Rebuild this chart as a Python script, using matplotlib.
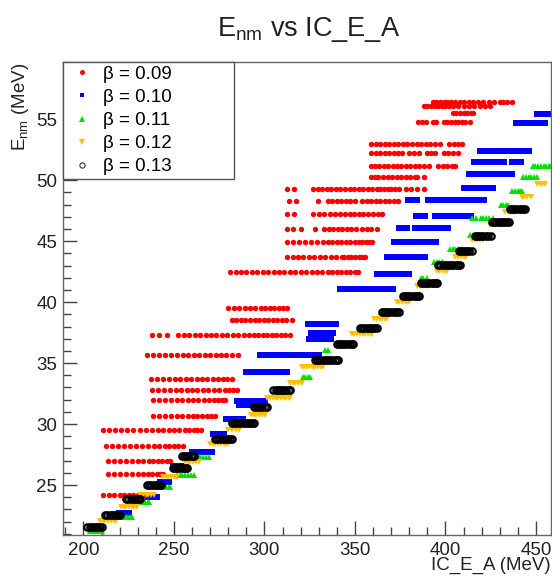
import numpy as np
import matplotlib
matplotlib.use("Agg")
import matplotlib.pyplot as plt
from matplotlib.ticker import MultipleLocator
from matplotlib.lines import Line2D

plt.rcParams['font.family'] = ['Liberation Sans', 'DejaVu Sans']
plt.rcParams['mathtext.fontset'] = 'custom'
plt.rcParams['mathtext.rm'] = 'Liberation Sans'
plt.rcParams['mathtext.it'] = 'Liberation Sans:italic'

# beta = 0.09 (red dots), rows of E_nm with their IC_E_A values
red_y = [56.4, 56.1, 55.5, 54.8, 53.0, 52.2, 51.2, 50.3, 49.3, 48.3, 47.2, 46.0, 44.9, 43.7,
         42.45, 39.5, 38.5, 37.3, 35.7, 33.7, 32.8, 32.0, 30.7, 29.5, 28.2, 27.0, 25.9, 24.2]
red_x = [
    [393, 395, 397, 399, 401, 403, 405, 408, 410, 413, 415, 418, 421, 424, 427, 430, 432, 434, 436.5],
    [388, 390, 392, 394, 396, 398, 400, 402, 404, 407, 410, 413, 416, 419, 422, 424.5],
    [404, 406, 408, 410, 412, 414, 415.2],
    [385, 387, 389, 393, 395, 399, 401, 403, 405, 407, 409, 411, 413.5],
    [359, 361.5, 364, 366.5, 369, 371.5, 374, 376.5, 379, 381.5, 384, 386.5, 389, 391.5, 394, 397,
     402, 404.5, 407, 409],
    [359, 361.5, 364, 366.5, 369, 371.5, 374, 376, 380, 382.5, 385.5, 390, 392, 394, 399, 401.5, 404, 407],
    [359, 361, 363.5, 366, 368.5, 371, 373, 375.5, 378, 380.5, 383, 385.5, 388, 391, 396, 398.5, 401,
     403.5, 405],
    [359, 361, 363, 365.5, 368, 370.5, 373, 375.5, 378, 380.5, 383, 384.5, 388],
    [312.5, 316.5, 327, 329.5, 332, 334.5, 337, 339.5, 342, 344.5, 347, 349.5, 352, 354.5, 357, 359.5,
     362, 364, 366, 368, 370, 372, 374.5, 378, 381, 384, 388],
    [313.5, 317.5, 329.7, 335, 337.5, 340, 342.5, 345, 347.5, 350, 354, 356.5, 359, 361.5, 364, 366.5,
     369, 371.5, 374],
    [312.5, 316.5, 327, 330, 333, 336, 339, 341.7, 344.5, 347, 349.5, 352, 354.6, 357.3, 360, 362.5, 364.8],
    [312.3, 316, 320.3, 327.9, 333, 335.5, 338, 340.5, 343, 345.5, 348, 350.5, 354, 356.5, 359, 362],
    [312.3, 315.7, 319, 322.4, 325.8, 329.2, 332.5, 335, 337.5, 340, 342.5, 345, 347.5, 350, 352, 354,
     356, 358, 359.2],
    [312.6, 315.5, 318.5, 321.5, 324.5, 327.5, 330.5, 333.5, 336.5, 339.5, 342.7, 344, 346, 348, 350,
     352, 354, 355.5],
    [281, 284, 287, 290, 293, 296, 299, 302, 305, 308, 311, 314, 317, 320, 323, 326, 329, 332, 335,
     337.5, 340, 342.5, 345, 347.5, 350, 351.7],
    [280, 283, 286, 289, 292, 295, 298, 300.5, 303, 305.5, 308, 310.5, 312.3],
    [281.9, 284.5, 287, 289.5, 292, 294.5, 297, 299.5, 302, 304.5, 307, 309.5, 312, 315],
    [237.7, 241.7, 246, 252.4, 255.5, 258.5, 261.5, 264.5, 267.5, 270.5, 273.5, 276.5, 279.5, 282.5,
     285.5, 288.5, 291.5, 294, 296.5, 299, 301.5, 304, 306.5, 309, 311.5, 314],
    [235.2, 238.5, 241.8, 245, 248.3, 251.5, 254.8, 258, 261, 264, 267, 270, 273, 276, 279, 282, 285.5],
    [237.1, 240.4, 243.7, 247, 250.3, 253.5, 256.5, 259.5, 262.5, 265.5, 268.5, 271.5, 274.5, 277,
     279.5, 281.9],
    [238, 241.3, 244.6, 248, 251, 254, 257, 260, 263, 266, 269, 272, 275, 278, 280.5, 282.5, 284.6],
    [238.4, 241.7, 245, 248.3, 251.5, 254.5, 257.5, 260.5, 263.5, 266.5, 269.5, 272, 274.5, 276.5, 278.2],
    [238.4, 241.7, 245, 248.3, 251.5, 254.5, 257.5, 260.5, 263, 265.5, 268, 270.5, 272.7],
    [211, 214.3, 217.6, 221, 224.3, 227.6, 231, 234.3, 237.6, 241, 244, 247, 250, 253, 256, 258.5,
     261, 263, 265.2],
    [212.4, 215.7, 219, 222.3, 225.6, 229, 232.3, 235.6, 239, 242, 245, 247.5, 250, 252.5, 255],
    [213.3, 216.6, 220, 223.3, 226.6, 230, 233, 236, 238.5, 241, 243.5, 246, 247.8],
    [213.3, 216.6, 220, 223.3, 226.6, 230, 233, 235.5, 238, 240.5, 242.5, 243.9],
    [211, 214, 217, 220, 222.5, 225, 227.5, 230, 232.9],
]

# beta = 0.10 (blue squares)
blue_y = [55.4, 54.7, 52.4, 51.5, 50.5, 49.4, 48.4, 47.1, 46.1, 44.9, 43.7, 42.3, 41.1, 38.2,
          37.45, 36.96, 35.7, 34.3, 31.9, 31.6, 30.4, 29.15, 27.7, 26.56, 25.27, 24.0, 22.7]
blue_x = [
    [450.5, 452, 453.5, 455, 456.5, 458],
    [439, 440.5, 442, 443.5, 445, 446.5, 448, 449.5, 451, 452.5, 454, 455],
    [419, 420.5, 422, 423.5, 425, 426.5, 428, 429.5, 431, 432.5, 434, 435.5, 437, 438.5, 440, 441.5,
     443, 444.5, 446],
    [416, 417.5, 419, 420.5, 422, 423.5, 425, 426.5, 428, 429.5, 431, 432.5, 437, 438.5, 440, 441.5],
    [413, 414.5, 416, 417.5, 419, 420.5, 422, 423.5, 425, 426.5, 428, 429.5, 432.5, 434, 435.5, 437],
    [410, 411.5, 413, 414.5, 416, 417.5, 419, 420.5, 422, 423.5, 425, 426],
    [379.5, 381, 382.5, 384, 390.5, 392, 393.5, 395, 396.5, 398, 399.5, 401, 402.5, 404, 405.5, 407,
     408.5, 410, 411.5, 413, 414.5, 416, 417.5, 419, 420.5, 421.3],
    [383.7, 385.2, 386.7, 388.5, 394.2, 395.7, 397.2, 398.7, 400.2, 401.7, 403.2, 404.7, 406.2, 407.7,
     409.2, 410.7, 412.2, 413.9],
    [374.5, 376, 377.5, 379, 383.2, 384.7, 386.2, 387.7, 389.2, 390.7, 392.2, 393.7, 395.2, 396.7,
     398.2, 399.7, 401.5],
    [371.6, 373.1, 374.6, 376.1, 377.1, 379.1, 380.6, 382.1, 383.6, 385.1, 386.6, 388.1, 389.6, 391.1,
     392.6, 394, 394.8],
    [367.5, 369, 370.5, 372, 373.5, 375, 376.5, 378, 379.5, 381, 382.5, 384, 385.5, 387, 388.7],
    [362.3, 363.8, 365.3, 366.8, 368.3, 369.8, 371.3, 372.8, 374.3, 375.8, 377.3, 378.8, 379.8],
    [341.7, 343.2, 344.7, 346.2, 347.7, 349.2, 350.7, 352.2, 353.7, 355.2, 356.7, 358.2, 359.7, 361.2,
     362.7, 364.2, 365.7, 367.2, 368.7, 370.2, 371.2],
    [324.2, 325.7, 327.2, 328.7, 330.2, 331.7, 333.2, 334.7, 336.2, 337.7, 339.5],
    [325.7, 327.2, 328.7, 330.2, 331.7, 333.2, 334.7, 336.2, 337.7],
    [324.6, 326.1, 327.6, 329.1, 330.6, 332.1, 333.6, 335.1, 336.7],
    [297.5, 299, 300.5, 302, 303.5, 305.3, 308.2, 309.7, 311.2, 312.7, 314.2, 315.7, 317.2, 318.7,
     320.2, 321.7, 323.2, 324.7, 326.2, 327.7, 329.2, 330.3],
    [289.6, 291.1, 292.6, 294.1, 295.6, 297.1, 298.6, 300.1, 301.6, 303.1, 304.6, 306.1, 307.6, 309.1,
     310.6, 312.3],
    [285, 286.5, 288, 289.5, 291, 292.5, 294, 295.5, 297, 298.5, 300.3],
    [286.1, 287.6, 289.1, 290.6, 292.1, 293.6, 295.1, 296.6, 298.5],
    [278.6, 280.1, 281.6, 283.1, 284.6, 286.1, 287.6, 288.3],
    [271.4, 272.9, 274.4, 275.9, 277.6],
    [259.7, 261.2, 262.7, 264.2, 265.7, 267.2, 268.7, 270.2, 270.8],
    [249.5, 251, 252.5, 254.1],
    [242.4, 243.9, 245.4, 247],
    [235.4, 236.9, 238.4, 239.9, 240.9],
    [219.9, 221.4, 222.9, 224.4, 224.9],
]

# beta = 0.11 (green triangles)
green_y = [51.2, 50.25, 49.1, 48.0, 46.9, 45.5, 44.4, 43.3, 42.0, 39.2, 36.1, 33.9, 32.5, 30.25,
           27.3, 25.8, 24.8, 23.6, 22.4, 21.2]
green_x = [
    [448.2, 449.7, 451.2, 452.7, 454.2, 455.7, 457.2, 458],
    [443, 444.5, 446, 447.5, 449, 450.8],
    [436.9, 438.4, 439.9, 441.4, 442.5],
    [430.5, 432, 433.5, 434.7],
    [414.6, 417, 419.5, 421, 422.5, 424, 426],
    [413.5, 415, 416.5, 418, 419.1],
    [402.5, 404, 405.5, 407, 408.8],
    [393.7, 395.2, 396.7, 398.2, 398.8],
    [386.3, 387.8, 389.6],
    [364.4, 366],
    [333.4, 335],
    [321.1, 322.6, 324.1, 325.1],
    [307.6, 309.1, 310.6, 312.3],
    [284.6, 286.1, 287.6, 289.2],
    [261.6, 263.1, 264.6, 266.1, 267.6, 269.1],
    [251.7, 253.2, 254.7, 256.2, 257.7, 259.2, 260.9],
    [239.8, 241.3, 242.8, 244.3, 245.8, 247.3, 248],
    [227.9, 229.4, 230.9, 232.4, 233.9, 235.4, 236.4],
    [220.3, 221.8, 223.3, 224.8, 226.3, 226.8],
    [203.4, 204.9, 206.4, 207.9, 209.4, 210.2],
]

# beta = 0.12 (yellow down triangles)
yellow_y = [49.7, 48.6, 47.4, 46.3, 45.07, 43.7, 42.57, 41.35, 40.0, 38.65, 37.36, 34.66, 33.35,
            32.1, 30.75, 29.5, 28.33, 26.9, 25.66, 24.22, 23.19, 22.04]
yellow_x = [
    [450.6, 452.1, 453.6, 455],
    [442.1, 443.6, 445.1, 447],
    [432.9, 434.4, 435.9, 437.4, 438.4],
    [424.6, 426.1, 427.6, 429.1, 430.1],
    [414.6, 416.1, 417.6, 419.1, 420.7],
    [405.5, 407, 408.5, 410, 411.3],
    [395.1, 396.6, 398.1, 399.6, 400.7],
    [384.5, 386, 387.5, 389, 390.1],
    [373, 374.5, 376, 377.5, 379, 379.8],
    [360.7, 362.2, 363.7, 365.2, 366.7, 367.9],
    [348.2, 349.7, 351.2, 352.7, 354.2, 355.7, 357.2, 358.7, 359.2],
    [320.6, 322.1, 323.6, 325.1, 326.6, 328.1, 329.6, 331.1, 332.2],
    [314.1, 315.6, 317.1, 318.6, 320.1, 320.7],
    [301.6, 303.1, 304.6, 306.1, 307.6, 309.1, 310.6, 312.1, 313.6, 314.1],
    [292.5, 294, 295.5, 297, 298.5, 300.3],
    [280, 282, 284, 286],
    [269.9, 271.4, 272.9, 274.4, 275.9, 277.4, 278.9, 279.9],
    [256.1, 257.6, 259.1, 260.6, 262.1, 263.8],
    [243.9, 245.4, 246.9, 248.4, 249.9, 251.4, 251.9],
    [231.4, 232.9, 234.4, 235.9, 237.4, 238.8],
    [220.7, 222.2, 223.7, 225.2, 226.7, 228.2, 229.6],
    [209.1, 210.6, 212.1, 213.6, 215.1, 216.6, 218.2],
]

# beta = 0.13 (black open circles)
black_y = [47.66, 46.55, 45.39, 44.19, 43.02, 41.56, 40.49, 39.22, 37.86, 36.56, 35.29, 32.80,
           31.36, 30.07, 28.78, 27.42, 26.40, 25.00, 23.85, 22.51, 21.53]
black_x = [
    [435.6, 436.8, 438, 439.2, 440.4, 441.6, 442.8, 443.9],
    [425.7, 426.9, 428.1, 429.3, 430.5, 431.7, 432.9, 434.1, 435.1],
    [416.2, 417.4, 418.6, 419.8, 421, 422.2, 423.4, 424.9],
    [407.2, 408.4, 409.6, 410.8, 412, 413.2, 414.4],
    [396, 397.2, 398.4, 399.6, 400.8, 402, 403.2, 404.4, 405.6, 406.8, 408],
    [386.3, 387.5, 388.7, 389.9, 391.1, 392.3, 393.5, 394.7, 395.3],
    [376.4, 377.6, 378.8, 380, 381.2, 382.4, 383.6, 384.8, 385.5],
    [364.8, 366, 367.2, 368.4, 369.6, 370.8, 372, 373.2, 374.2],
    [352.8, 354, 355.2, 356.4, 357.6, 358.8, 360, 361.2, 362],
    [339.9, 341.1, 342.3, 343.5, 344.7, 345.9, 347.1, 348.3, 349.1],
    [327.9, 329.1, 330.3, 331.5, 332.7, 333.9, 335.1, 336.3, 337.5, 338.7, 339.9, 340.6],
    [304.9, 306.1, 307.3, 308.5, 309.7, 310.9, 312.1, 313.3, 314.1],
    [294.1, 295.3, 296.5, 297.7, 298.9, 300.1, 301.4],
    [281.9, 283.1, 284.3, 285.5, 286.7, 287.9, 289.1, 290.3, 291.5, 292.7, 293.9, 294.2],
    [272.7, 273.9, 275.1, 276.3, 277.5, 278.7, 279.9, 281.1, 281.9],
    [254.4, 255.6, 256.8, 258, 259.2, 260.4, 261.1],
    [249.4, 250.6, 251.8, 253, 254.2, 255.4, 256.6, 257.2],
    [235.1, 236.3, 237.5, 238.7, 239.9, 241.1, 242.3, 243.1],
    [223.6, 224.8, 226, 227.2, 228.4, 229.6, 230.8, 231.3],
    [212, 213.2, 214.4, 215.6, 216.8, 218, 219.2, 220.3],
    [202.2, 203.4, 204.6, 205.8, 207, 208.2, 209.4, 210.4],
]

labels = ["\u03b2 = 0.09", "\u03b2 = 0.10", "\u03b2 = 0.11", "\u03b2 = 0.12", "\u03b2 = 0.13"]


def flat(ys, xs):
    xx = np.concatenate([np.asarray(x, float) for x in xs])
    yy = np.concatenate([np.full(len(x), y) for y, x in zip(ys, xs)])
    return xx, yy


series = [
    (red_y, red_x, dict(marker='o', color='#ff0000', ms=3.9, mew=0)),
    (blue_y, blue_x, dict(marker='s', color='#0000ff', ms=3.9, mew=0)),
    (green_y, green_x, dict(marker='^', color='#00e000', ms=4.6, mew=0)),
    (yellow_y, yellow_x, dict(marker='v', color='#ffc000', ms=4.8, mew=0)),
    (black_y, black_x, dict(marker='o', color='black', mfc='none', mec='black', ms=4.6, mew=1.6)),
]
legend_styles = [
    dict(marker='o', color='#ff0000', ms=3.6, mew=0),
    dict(marker='s', color='#0000ff', ms=3.4, mew=0),
    dict(marker='^', color='#00e000', ms=3.8, mew=0),
    dict(marker='v', color='#ffc000', ms=3.8, mew=0),
    dict(marker='o', color='black', mfc='none', mec='#333333', ms=3.8, mew=0.8),
]

fig = plt.figure(figsize=(5.52, 5.80), dpi=100)
ax = fig.add_axes([63 / 552, 1 - 535 / 580, 488 / 552, 473 / 580])

for ys, xs, st in series:
    xx, yy = flat(ys, xs)
    ax.plot(xx, yy, linestyle='none', **st)
handles = [Line2D([], [], linestyle='none', **st) for st in legend_styles]

ax.set_xlim(188.7, 458.3)
ax.set_ylim(20.9, 59.7)
ax.set_xticks([200, 250, 300, 350, 400, 450])
ax.set_yticks([25, 30, 35, 40, 45, 50, 55])
ax.xaxis.set_minor_locator(MultipleLocator(10))
ax.yaxis.set_minor_locator(MultipleLocator(1))
ax.tick_params(which='both', direction='in', top=False, right=False, color='#444444', width=1)
ax.tick_params(which='major', length=10, labelsize=13.5, labelcolor='#222222')
ax.tick_params(which='minor', length=5.5)
ax.tick_params(axis='x', pad=5)
ax.tick_params(axis='y', pad=4)
for sp in ax.spines.values():
    sp.set_color('#666666')
    sp.set_linewidth(1)

ax.set_xlabel("IC_E_A (MeV)", fontsize=13.5, loc='right', color='#222222')
ax.xaxis.set_label_coords(1.0, -0.047)
ax.set_ylabel(r"E$_{\mathrm{nm}}$ (MeV)", fontsize=13.5, loc='top', color='#222222')
ax.yaxis.set_label_coords(-0.066, 1.0)

fig.text(309 / 552, 1 - 29 / 580, r"E$_{\mathrm{nm}}$ vs IC_E_A", fontsize=19.5,
         ha='center', va='center', color='#222222')

leg = ax.legend(handles, labels, loc='upper left', bbox_to_anchor=(0, 0, 0.35, 1),
                mode='expand', borderaxespad=0, fancybox=False, framealpha=1,
                edgecolor='#555555', fontsize=13.5, handlelength=1.6, handletextpad=0.35,
                borderpad=0.2, labelspacing=0.32)
leg.get_frame().set_linewidth(1)

fig.savefig("out.png", dpi=100)
